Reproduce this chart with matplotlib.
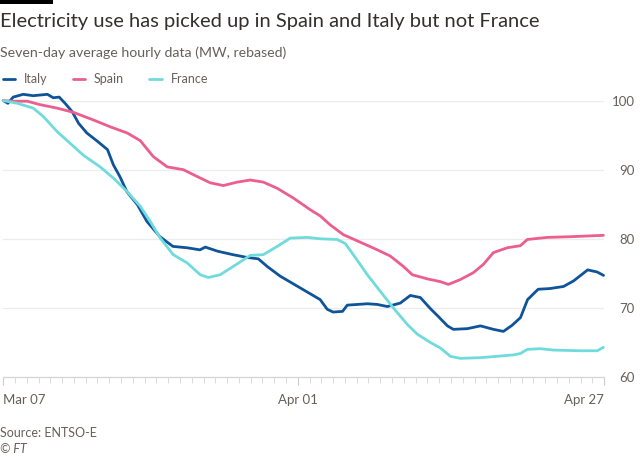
import matplotlib
matplotlib.use("Agg")
import matplotlib.pyplot as plt
import matplotlib.dates as mdates
from matplotlib.patches import Rectangle
import pandas as pd

plt.rcParams['font.family'] = ['Lato', 'DejaVu Sans']

START = pd.Timestamp("2020-03-07")

# days since Mar 07, index (rebased to 100)
italy_days = [0.0, 0.4, 0.85, 1.7, 2.55, 3.75, 4.25, 4.75, 5.25, 5.85, 6.4, 7.1, 8.0, 8.85,
              9.35, 9.9, 10.5, 11.4, 12.2, 13.3, 14.4, 15.6, 16.7, 17.15, 18.2, 19.5, 20.7,
              21.65, 22.4, 23.5, 24.6, 25.8, 26.9, 27.5, 28.0, 28.8, 29.2, 30.05, 30.9, 31.75,
              32.6, 33.7, 34.55, 35.4, 36.25, 36.9, 37.7, 38.2, 39.4, 40.5, 41.6, 42.45, 43.2,
              43.9, 44.5, 45.4, 46.4, 47.55, 48.4, 49.6, 50.4, 50.95]
italy_vals = [100.0, 99.6, 100.5, 100.9, 100.7, 100.9, 100.4, 100.5, 99.6, 98.4, 96.7, 95.3,
              94.1, 92.9, 90.7, 89.0, 86.8, 84.9, 82.5, 80.3, 78.9, 78.7, 78.4, 78.8, 78.2,
              77.7, 77.3, 77.1, 76.0, 74.6, 73.5, 72.3, 71.2, 69.8, 69.4, 69.5, 70.4, 70.5,
              70.6, 70.5, 70.2, 70.7, 71.8, 71.5, 69.9, 68.8, 67.4, 66.9, 67.0, 67.4, 66.9,
              66.6, 67.5, 68.6, 71.2, 72.7, 72.8, 73.1, 73.9, 75.5, 75.2, 74.7]

spain_days = [0.0, 0.85, 2.04, 3.14, 4.58, 5.94, 7.64, 9.08, 10.53, 11.63, 12.73, 13.92, 15.28,
              16.47, 17.57, 18.68, 19.86, 20.97, 22.07, 23.26, 24.62, 26.06, 26.91, 27.76,
              28.86, 30.31, 31.75, 32.85, 33.96, 34.72, 35.99, 37.1, 37.78, 38.79, 39.9, 40.75,
              41.6, 42.78, 43.89, 44.48, 46.18, 48.13, 50.93]
spain_vals = [100.0, 99.9, 99.9, 99.4, 98.9, 98.3, 97.2, 96.2, 95.3, 94.2, 91.9, 90.4, 90.0,
              89.0, 88.1, 87.7, 88.2, 88.5, 88.2, 87.3, 85.9, 84.2, 83.3, 82.0, 80.6, 79.5,
              78.4, 77.5, 76.0, 74.8, 74.2, 73.8, 73.4, 74.1, 75.1, 76.3, 78.0, 78.7, 79.0,
              79.9, 80.2, 80.3, 80.5]

france_days = [0.0, 1.19, 2.55, 3.4, 4.58, 5.69, 6.79, 8.23, 9.34, 10.53, 11.63, 12.48, 13.33,
               14.43, 15.62, 16.72, 17.4, 18.42, 19.52, 20.97, 22.07, 23.26, 24.36, 25.81,
               26.91, 28.35, 29.03, 29.71, 30.9, 32.0, 33.11, 34.3, 35.14, 36.25, 37.1, 37.95,
               38.79, 40.49, 41.94, 43.29, 43.89, 44.48, 45.59, 46.69, 48.98, 50.42, 50.93]
france_vals = [100.0, 99.6, 98.9, 97.7, 95.5, 93.8, 92.1, 90.4, 88.8, 86.8, 84.7, 82.5, 80.1,
               77.7, 76.5, 74.8, 74.4, 74.8, 76.0, 77.6, 77.7, 78.9, 80.1, 80.2, 80.0, 79.9,
               79.3, 77.7, 74.8, 72.4, 70.0, 67.6, 66.2, 65.0, 64.2, 63.0, 62.7, 62.8, 63.0,
               63.2, 63.4, 64.0, 64.1, 63.9, 63.8, 63.8, 64.3]

series = [("Italy", italy_days, italy_vals, "#0f5499"),
          ("Spain", spain_days, spain_vals, "#eb5e8d"),
          ("France", france_days, france_vals, "#70dbdc")]

y_ticks = [60, 70, 80, 90, 100]
x_labels = ["Mar 07", "Apr 01", "Apr 27"]
x_major = [pd.Timestamp("2020-03-07"), pd.Timestamp("2020-04-01"), pd.Timestamp("2020-04-27")]

TEXT = "#33302e"
GREY = "#66605c"

fig = plt.figure(figsize=(6.4, 4.57), dpi=100)
fig.patch.set_facecolor("white")
ax = fig.add_axes([0.005, 0.175, 0.939, 0.605])

for name, days, vals, col in series:
    x = START + pd.to_timedelta(days, unit="D")
    ax.plot(x, vals, color=col, lw=2.0, label=name, clip_on=False,
            solid_capstyle="round", zorder=3)

ax.set_xlim(x_major[0], x_major[-1])
ax.set_ylim(60, 100)

ax.yaxis.tick_right()
ax.set_yticks(y_ticks)
ax.set_yticklabels([str(v) for v in y_ticks])
ax.tick_params(axis="y", length=0, pad=22, labelsize=9.5, labelcolor=GREY)
for lab in ax.get_yticklabels():
    lab.set_horizontalalignment("right")
ax.grid(axis="y", color="#ececec", lw=0.9, zorder=0)

ax.set_xticks(x_major)
ax.set_xticklabels(x_labels)
ax.xaxis.set_minor_locator(mdates.DayLocator())
ax.tick_params(axis="x", which="major", length=6, width=0.8, color="#cccccc",
               labelsize=9.5, labelcolor=GREY, pad=6)
ax.tick_params(axis="x", which="minor", length=4, width=0.6, color="#d6d6d6")
xl = ax.get_xticklabels()
xl[0].set_horizontalalignment("left")
xl[-1].set_horizontalalignment("right")

for s in ["top", "right", "left"]:
    ax.spines[s].set_visible(False)
ax.spines["bottom"].set_color("#d6d6d6")
ax.spines["bottom"].set_linewidth(0.9)

fig.patches.append(Rectangle((0, 1 - 4 / 457), 53 / 640, 4 / 457, transform=fig.transFigure,
                             facecolor="black", edgecolor="none"))
fig.text(0.0, 1 - 27 / 457, "Electricity use has picked up in Spain and Italy but not France",
         fontsize=14.5, color=TEXT, va="baseline", ha="left")
fig.text(0.0, 1 - 57 / 457, "Seven-day average hourly data (MW, rebased)",
         fontsize=10.2, color=GREY, va="baseline", ha="left")

leg = fig.legend(loc="upper left", bbox_to_anchor=(-0.013, 1 - 62 / 457), ncol=3, frameon=False,
                 fontsize=9, handlelength=1.0, handletextpad=0.7, columnspacing=2.0,
                 labelcolor=GREY)

fig.text(0.0, 1 - 437 / 457, "Source: ENTSO-E", fontsize=9, color=GREY, va="baseline")
fig.text(0.0, 1 - 453 / 457, "© FT", fontsize=9, color=GREY, va="baseline", style="italic")

fig.savefig("out.png", dpi=100, facecolor="white")
